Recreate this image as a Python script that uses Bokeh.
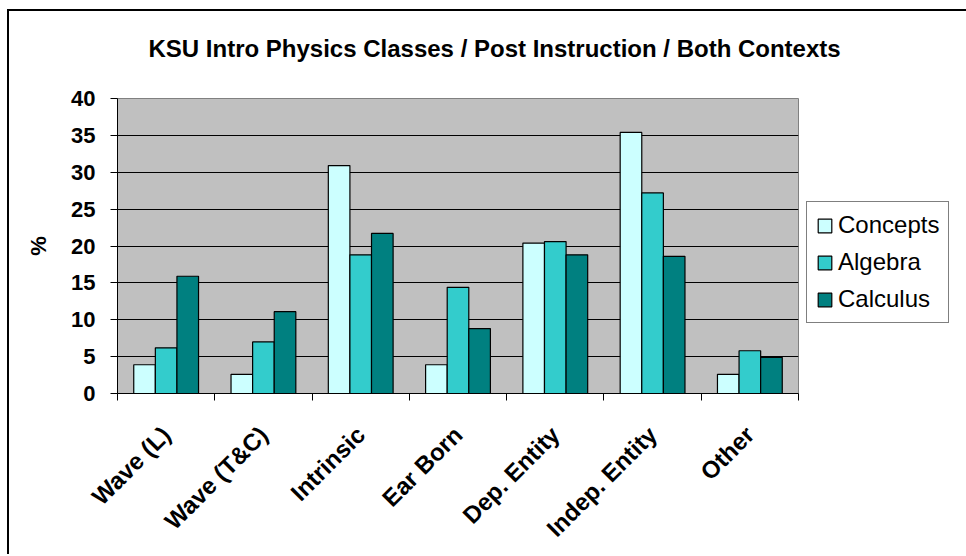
import math
from bokeh.plotting import figure
from bokeh.models import (ColumnDataSource, FactorRange, Range1d, LinearAxis,
                          CategoricalAxis, FixedTicker, Legend, LegendItem, Title)
from bokeh.transform import dodge
from bokeh.embed import file_html
from bokeh.resources import INLINE

title_text = "KSU Intro Physics Classes / Post Instruction / Both Contexts"
categories = ["Wave (L)", "Wave (T&C)", "Intrinsic", "Ear Born",
              "Dep. Entity", "Indep. Entity", "Other"]
series = ["Concepts", "Algebra", "Calculus"]
concepts = [3.9, 2.6, 30.9, 3.9, 20.4, 35.4, 2.6]
algebra = [6.2, 7.0, 18.8, 14.4, 20.6, 27.2, 5.8]
calculus = [15.9, 11.1, 21.7, 8.8, 18.8, 18.6, 4.9]
yticks = [0, 5, 10, 15, 20, 25, 30, 35, 40]
colors = ["#CCFFFF", "#33CCCC", "#008080"]

FONT = "Liberation Sans"

source = ColumnDataSource(dict(cat=categories, Concepts=concepts,
                               Algebra=algebra, Calculus=calculus))

p = figure(x_range=FactorRange(factors=categories, range_padding=0),
           y_range=Range1d(0, 40),
           frame_width=681, frame_height=295,
           min_border_left=108, min_border_right=165,
           min_border_top=87, min_border_bottom=150,
           output_backend="svg", toolbar_location=None,
           x_axis_location=None, title=None,
           background_fill_color="#C0C0C0", border_fill_color="white")

p.styles = {"border-left": "2px solid black", "border-top": "2px solid black",
            "margin-left": "7px", "margin-top": "9px"}

# spacer between frame and title, then the title itself
spacer = Title(text=" ", text_font_size="10px", standoff=24)
p.add_layout(spacer, "above")
main_title = Title(text=title_text, text_font=FONT, text_font_size="24px",
                   text_font_style="bold", text_color="black",
                   align="left", offset=31, standoff=0)
p.add_layout(main_title, "above")

p.outline_line_color = "#808080"
p.outline_line_width = 1

# grid
p.xgrid.visible = False
p.ygrid.grid_line_color = "black"
p.ygrid.grid_line_width = 1
p.ygrid.ticker = FixedTicker(ticks=yticks)

# y axis
p.yaxis.ticker = FixedTicker(ticks=yticks)
p.yaxis.axis_label = "%"
p.yaxis.axis_label_text_font = FONT
p.yaxis.axis_label_text_font_size = "22px"
p.yaxis.axis_label_text_font_style = "bold"
p.yaxis.axis_label_text_color = "black"
p.yaxis.axis_label_standoff = 17
p.yaxis.major_label_text_font = FONT
p.yaxis.major_label_text_font_size = "22px"
p.yaxis.major_label_text_font_style = "bold"
p.yaxis.major_label_text_color = "black"
p.yaxis.major_label_standoff = 15
p.yaxis.major_tick_in = 0
p.yaxis.major_tick_out = 7
p.yaxis.minor_tick_line_color = None
p.yaxis.axis_line_color = "black"
p.yaxis.major_tick_line_color = "black"

# x axis: ticks at category boundaries, labels at centres
tick_axis = LinearAxis(ticker=FixedTicker(ticks=list(range(len(categories) + 1))),
                       axis_line_color="black", major_tick_line_color="black",
                       major_tick_in=0, major_tick_out=7,
                       minor_tick_line_color=None,
                       major_label_text_font_size="0px",
                       major_label_text_color=None,
                       major_label_standoff=0)
p.add_layout(tick_axis, "below")

cat_axis = CategoricalAxis(axis_line_color=None, major_tick_line_color=None,
                           minor_tick_line_color=None,
                           major_label_orientation=math.pi / 4,
                           major_label_text_font=FONT,
                           major_label_text_font_size="24px",
                           major_label_text_font_style="bold",
                           major_label_text_color="black",
                           major_label_standoff=24)
p.add_layout(cat_axis, "below")

bw = 0.222
offsets = [-bw, 0.0, bw]
items = []
for name, off, col in zip(series, offsets, colors):
    r = p.vbar(x=dodge("cat", off, range=p.x_range), top=name, width=bw,
               source=source, fill_color=col, line_color="black", line_width=1.2)
    items.append(LegendItem(label=name, renderers=[r]))

legend = Legend(items=items, location=(8, 70),
                border_line_color="black", border_line_width=1,
                background_fill_color="white", background_fill_alpha=1,
                label_text_font=FONT, label_text_font_size="24px",
                label_text_color="black", label_text_baseline="middle",
                glyph_width=17, glyph_height=17, label_height=17,
                label_standoff=5, spacing=9, padding=9, margin=0)
p.add_layout(legend, "right")

open("out.html", "w").write(file_html(p, INLINE))
